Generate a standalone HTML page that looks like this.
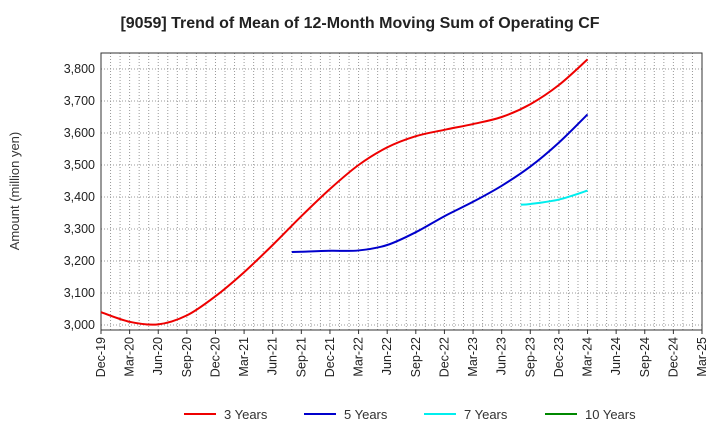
<!DOCTYPE html>
<html><head><meta charset="utf-8"><style>
body{margin:0;background:#fff;font-family:"Liberation Sans",sans-serif}
svg text{font-family:"Liberation Sans",sans-serif}
</style></head><body>
<svg id="c" width="720" height="440"></svg>
<script>
const xLabels=["Dec-19","Mar-20","Jun-20","Sep-20","Dec-20","Mar-21","Jun-21","Sep-21","Dec-21","Mar-22","Jun-22","Sep-22","Dec-22","Mar-23","Jun-23","Sep-23","Dec-23","Mar-24","Jun-24","Sep-24","Dec-24","Mar-25"];
const yTicks=[3000,3100,3200,3300,3400,3500,3600,3700,3800];
const m3=[0,3,6,9,12,15,18,21,24,27,30,33,36,39,42,45,48,51];
const v3=[3040,3010,3002,3030,3090,3165,3250,3340,3425,3500,3555,3590,3610,3628,3650,3690,3750,3830];
const m5=[20,21,24,27,30,33,36,39,42,45,48,51];
const v5=[3228,3229,3232,3233,3250,3290,3340,3385,3435,3495,3570,3658];
const m7=[44,45,48,51];
const v7=[3376,3378,3392,3420];
const m10=[];const v10=[];
const NS="http://www.w3.org/2000/svg",svg=document.getElementById('c');
const L=101,R=702,T=53,B=330;
const X=m=>L+(R-L)*m/63;
const Y=v=>325-(v-3000)*0.32;
function el(t,a,p){const e=document.createElementNS(NS,t);for(const k in a)e.setAttribute(k,a[k]);(p||svg).appendChild(e);return e;}
const g=el('g',{});
for(let m=1;m<63;m++)el('line',{x1:X(m),x2:X(m),y1:T,y2:B,stroke:'#999','stroke-dasharray':'1,2','stroke-width':1},g);
yTicks.forEach(v=>{el('line',{x1:L,x2:R,y1:Y(v),y2:Y(v),stroke:'#999','stroke-dasharray':'1,2'},g);
const t=el('text',{x:L-6,y:Y(v)+4,'text-anchor':'end','font-size':12.5,fill:'#222'});t.textContent=v.toLocaleString('en-US');
});
xLabels.forEach((s,i)=>{const x=X(i*3);el('line',{x1:x,x2:x,y1:B,y2:B+4,stroke:'#333'});
const t=el('text',{transform:`translate(${x+4},${B+7}) rotate(-90)`,'text-anchor':'end','font-size':12.5,fill:'#222'});t.textContent=s;
});
const f=el('rect',{x:L,y:T,width:R-L,height:B-T,fill:'none',stroke:'#333'});

function path(ms,vs,c,name){if(!ms.length)return;const p=ms.map((m,i)=>[X(m),Y(vs[i])]);let d=`M${p[0][0]},${p[0][1]}`;
for(let i=0;i<p.length-1;i++){const p0=p[i-1]||p[i],p1=p[i],p2=p[i+1],p3=p[i+2]||p2;
d+=`C${p1[0]+(p2[0]-p0[0])/6},${p1[1]+(p2[1]-p0[1])/6} ${p2[0]-(p3[0]-p1[0])/6},${p2[1]-(p3[1]-p1[1])/6} ${p2[0]},${p2[1]}`;}
const e=el('path',{d,fill:'none',stroke:c,'stroke-width':2});}
path(m3,v3,'#e00','line-3-years');path(m5,v5,'#00c','line-5-years');path(m7,v7,'#0ee','line-7-years');path(m10,v10,'#080','line-10-years');
const tt=el('text',{x:360,y:28,'text-anchor':'middle','font-size':16,'font-weight':'bold',fill:'#222'});tt.textContent='[9059]  Trend of Mean of 12-Month Moving Sum of Operating CF';

const yt=el('text',{transform:'translate(19,191) rotate(-90)','text-anchor':'middle','font-size':13,fill:'#333'});yt.textContent='Amount (million yen)';

[['3 Years','#e00',184],['5 Years','#00c',304],['7 Years','#0ee',424],['10 Years','#080',545]].forEach(([s,c,x])=>{
const lg=el('g',{});
el('line',{x1:x,x2:x+32,y1:414,y2:414,stroke:c,'stroke-width':2},lg);
const t=el('text',{x:x+40,y:419,'font-size':13,fill:'#333'},lg);t.textContent=s;});
</script></body></html>
